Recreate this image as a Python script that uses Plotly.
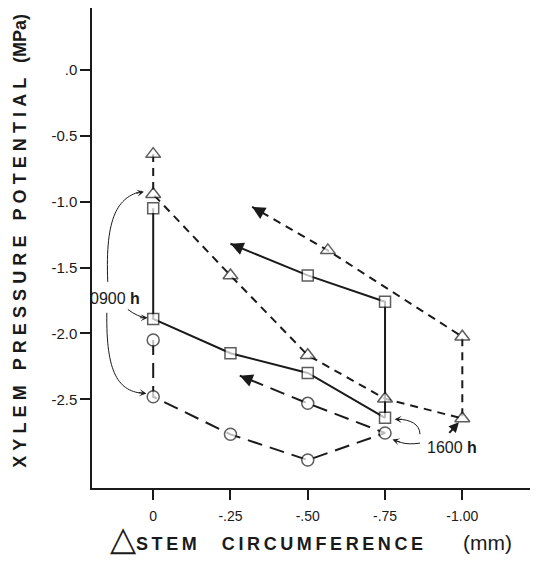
import plotly.graph_objects as go

# ---- data ----
sq_x = [0, 0, -0.25, -0.50, -0.75, -0.75, -0.50]
sq_y = [-1.05, -1.89, -2.15, -2.30, -2.64, -1.76, -1.56]
sq_tip = (-0.25, -1.32)

tri_x = [0, 0, -0.25, -0.50, -0.75, -1.00, -1.00, -0.565]
tri_y = [-0.64, -0.945, -1.56, -2.165, -2.495, -2.645, -2.025, -1.37]
tri_tip = (-0.32, -1.04)

circ_x = [0, 0, -0.25, -0.50, -0.75, -0.50]
circ_y = [-2.05, -2.48, -2.765, -2.96, -2.755, -2.53]
circ_tip = (-0.28, -2.32)

x_ticks = [0, -0.25, -0.50, -0.75, -1.00]
x_ticktext = ["0", "-.25", "-.50", "-.75", "-1.00"]
y_ticks = [0, -0.5, -1.0, -1.5, -2.0, -2.5]
y_ticktext = [".0", "-0.5", "-1.0", "-1.5", "-2.0", "-2.5"]

FONT = "Liberation Sans, Arial, sans-serif"
INK = "#1a1a1a"


def spaced(s, sep="\u2009"):
    return sep.join(s)


fig = go.Figure()


def add_series(xs, ys, tip, symbol, size, dash):
    n = len(xs)
    fig.add_trace(go.Scatter(
        x=list(xs) + [tip[0]], y=list(ys) + [tip[1]],
        mode="lines+markers",
        line=dict(color=INK, width=2, dash=dash),
        marker=dict(symbol=symbol, size=[size] * n + [0], color="white",
                    line=dict(color=INK, width=1.5)),
        hoverinfo="skip", showlegend=False, cliponaxis=False,
    ))
    # arrowhead at the end of the series
    px, py = xs[-1], ys[-1]
    fig.add_annotation(
        x=tip[0], y=tip[1], xref="x", yref="y",
        ax=tip[0] + 0.14 * (px - tip[0]), ay=tip[1] + 0.14 * (py - tip[1]),
        axref="x", ayref="y", text="", showarrow=True,
        arrowhead=2, arrowsize=1.3, arrowwidth=2, arrowcolor=INK, standoff=0,
    )


add_series(sq_x, sq_y, sq_tip, "square", 11, "solid")
add_series(circ_x, circ_y, circ_tip, "circle", 12, "15px,8px")
add_series(tri_x, tri_y, tri_tip, "triangle-up", 13, "8px,6px")

# ---- curved pointer arrows for time labels ----
curves = [
    "M 0.147,-1.609 C 0.156,-1.110 0.114,-0.967 0.037,-0.921",
    "M 0.150,-1.843 C 0.153,-2.296 0.114,-2.447 0.026,-2.455",
    "M 0.082,-1.818 Q 0.050,-1.875 0.022,-1.881",
    "M -0.863,-2.764 C -0.863,-2.689 -0.831,-2.651 -0.792,-2.651",
    "M -0.863,-2.832 C -0.815,-2.847 -0.800,-2.825 -0.784,-2.812",
]
for p in curves:
    fig.add_shape(type="path", path=p, xref="x", yref="y",
                  line=dict(color=INK, width=1))

heads = [
    (0.030, -0.925, -9, 2),
    (0.022, -2.455, -9, -1),
    (0.018, -1.881, -9, 0),
    (-0.781, -2.651, 9, 0),
    (-0.774, -2.805, 9, 3),
]
for hx, hy, dx, dy in heads:
    fig.add_annotation(x=hx, y=hy, xref="x", yref="y", ax=dx, ay=dy,
                       text="", showarrow=True, arrowhead=3, arrowsize=1.2,
                       arrowwidth=1, arrowcolor=INK, standoff=0)

# straight bold arrow to the -1.00 triangle
fig.add_annotation(x=-0.989, y=-2.674, xref="x", yref="y", ax=-11, ay=12,
                   text="", showarrow=True, arrowhead=2, arrowsize=1.0,
                   arrowwidth=2, arrowcolor=INK, standoff=0)

# time labels
fig.add_annotation(x=0.124, y=-1.737, xref="x", yref="y", showarrow=False,
                   text="0900 <b>h</b>", font=dict(family=FONT, size=16, color=INK))
fig.add_annotation(x=-0.966, y=-2.862, xref="x", yref="y", showarrow=False,
                   text="1600 <b>h</b>", font=dict(family=FONT, size=16, color=INK))

# ---- axis titles ----
ysep = "\u2009\u200a"
fig.add_annotation(
    xref="paper", yref="paper", x=0, y=0.515, xshift=-72, textangle=-90,
    xanchor="center", yanchor="middle", showarrow=False,
    text="<b>" + spaced("XYLEM", ysep) + "   " + spaced("PRESSURE", ysep) + "   " +
         spaced("POTENTIAL", ysep) + "   (MPa)</b>",
    font=dict(family=FONT, size=18, color=INK),
)
fig.add_annotation(
    xref="paper", yref="paper", x=0.5, y=0, yshift=-50,
    xanchor="center", yanchor="middle", showarrow=False,
    text="<span style='font-size:34px'>△</span><b>" + spaced("STEM") + "     " +
         spaced("CIRCUMFERENCE") + "</b>        <span style='font-size:21px'>(mm)</span>",
    font=dict(family=FONT, size=18, color=INK),
)

# the page body adds an 8px offset; margins compensate for it
fig.update_layout(
    width=533, height=555,
    margin=dict(l=84, r=11, t=0, b=75),
    paper_bgcolor="white", plot_bgcolor="white",
    showlegend=False,
    xaxis=dict(
        range=[0.198, -1.219], showgrid=False, zeroline=False,
        showline=True, linecolor=INK, linewidth=1.5,
        ticks="outside", ticklen=10, tickwidth=1.5, tickcolor=INK,
        tickvals=x_ticks, ticktext=x_ticktext, ticklabelstandoff=4,
        tickfont=dict(family=FONT, size=14, color=INK),
    ),
    yaxis=dict(
        range=[-3.172, 0.468], showgrid=False, zeroline=False,
        showline=True, linecolor=INK, linewidth=1.5,
        ticks="outside", ticklen=10, tickwidth=1.5, tickcolor=INK,
        tickvals=y_ticks, ticktext=y_ticktext,
        tickfont=dict(family=FONT, size=15, color=INK),
    ),
)

fig.write_html("out.html")
